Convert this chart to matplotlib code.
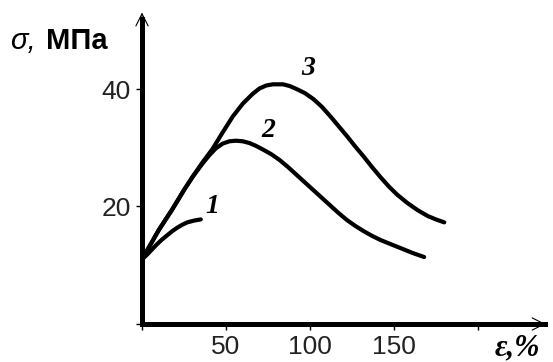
import matplotlib
matplotlib.use('Agg')
import matplotlib.pyplot as plt

# strain, % / stress, MPa
eps1 = [0, 3, 6, 9, 12, 15, 18, 21, 24, 27, 31, 35]
sig1 = [11, 11.8, 12.7, 13.6, 14.4, 15.1, 15.8, 16.4, 16.9, 17.3, 17.6, 17.8]

eps2 = [0, 5, 10, 18, 25, 30, 36, 40, 44, 48, 52, 56, 60, 64, 68, 72, 77, 82,
        87, 92, 97, 102, 107, 112, 117, 122, 127, 132, 137, 142, 148, 155, 161, 168]
sig2 = [11, 13.5, 16, 19.5, 22.8, 25, 27.3, 28.7, 29.9, 30.7, 31.1, 31.2, 31.1,
        30.8, 30.3, 29.7, 28.9, 27.9, 26.7, 25.4, 24.1, 22.8, 21.5, 20.2, 18.9,
        17.7, 16.7, 15.8, 15, 14.3, 13.6, 12.8, 12.1, 11.4]

eps3 = [0, 5, 10, 18, 25, 30, 36, 42, 48, 54, 60, 66, 70, 74, 78, 84, 88, 92,
        97, 102, 107, 112, 117, 122, 127, 132, 137, 142, 147, 152, 158, 164, 170, 175, 180]
sig3 = [11, 13.5, 16, 19.5, 22.8, 25, 27.5, 29.8, 32.6, 35.3, 37.5, 39.2, 40.1,
        40.6, 40.8, 40.8, 40.5, 40, 39.3, 38.3, 37, 35.4, 33.7, 32, 30.2, 28.5,
        26.7, 25, 23.4, 22, 20.6, 19.4, 18.4, 17.8, 17.3]

curve_labels = ['1', '2', '3']
label_pos = [(42, 20), (75, 33), (99, 43.5)]

xticks = [0, 50, 100, 150, 200]
xticklabels = ['', '50', '100', '150', '']
yticks = [0, 20, 40]
yticklabels = ['', '20', '40']

fig = plt.figure(figsize=(5.53, 3.62), dpi=100)
ax = fig.add_axes([0.2568, 0.105, 0.7288, 0.8536])

for x, y in [(eps1, sig1), (eps2, sig2), (eps3, sig3)]:
    ax.plot(x, y, color='black', lw=3, solid_capstyle='round',
            solid_joinstyle='round')

for t, (x, y) in zip(curve_labels, label_pos):
    ax.text(x, y, t, fontsize=20, family='Liberation Serif', style='italic',
            weight='bold', ha='center', va='center')

ax.set_xlim(0, 240)
ax.set_ylim(0, 52.6)
for s in ['top', 'right']:
    ax.spines[s].set_visible(False)
for s in ['left', 'bottom']:
    ax.spines[s].set_linewidth(3.6)
ax.spines['left'].set_bounds(0, 52)
ax.spines['bottom'].set_bounds(0, 240)

ax.set_xticks(xticks)
ax.set_xticklabels(xticklabels)
ax.set_yticks(yticks)
ax.set_yticklabels(yticklabels)
ax.tick_params(length=4, width=1, labelsize=19, pad=4)
for lab in ax.get_xticklabels() + ax.get_yticklabels():
    lab.set_family('Liberation Sans')
    lab.set_color('#222222')

# axis arrows
ax.annotate('', xy=(242, 0), xytext=(215, 0), xycoords='data',
            arrowprops=dict(arrowstyle='->', lw=0.8, color='black',
                            mutation_scale=22),
            annotation_clip=False)
ax.annotate('', xy=(0, 53.5), xytext=(0, 46), xycoords='data',
            arrowprops=dict(arrowstyle='->', lw=0.8, color='black',
                            mutation_scale=22),
            annotation_clip=False)

fig.text(0.018, 0.887, 'σ,', fontsize=21, style='italic',
         family='Liberation Sans', va='center')
fig.text(0.083, 0.887, 'МПа', fontsize=21, family='Liberation Sans',
         weight='bold', va='center')
fig.text(0.935, 0.04, 'ε,%', fontsize=22, family='Liberation Serif',
         style='italic', weight='bold', ha='center', va='center')

fig.savefig('out.png', dpi=100)
